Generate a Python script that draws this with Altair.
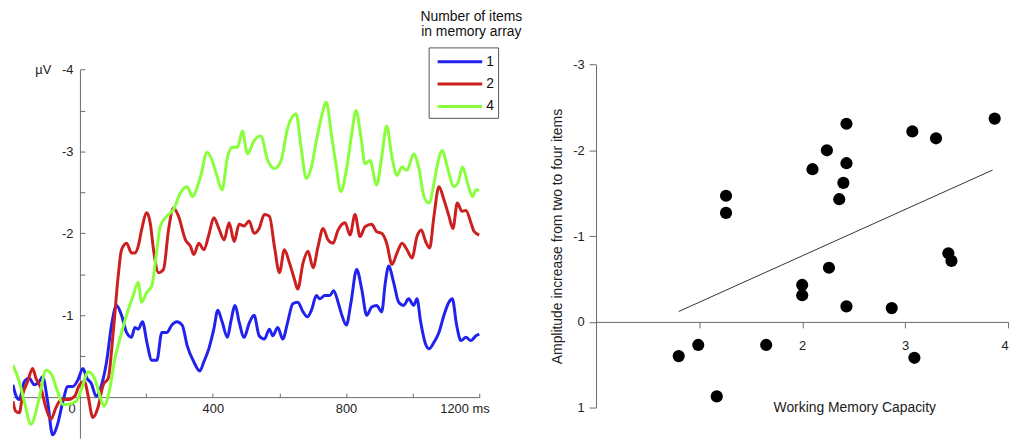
import altair as alt
import pandas as pd

# ---------------- ERP traces (left panel) ----------------
t1 = [-200,-192,-181,-166,-151,-136,-121,-111,-96,-81,-66,-50,-35,-20,-5,10,22,35,50,66,
      81,96,111,126,141,156,166,176,189,202,217,232,247,262,277,292,308,323,343,361,
      373,388,403,415,428,444,454,467,479,494,509,524,539,555,570,580,595,610,625,640,
      655,671,684,696,711,721,736,751,763,776,786,801,815,832,847,862,877,892,907,918,
      928,943,958,973,988,1003,1013,1024,1037,1049,1064,1079,1094,1109,1119,1132,1145,1160,1175,1190,1200]
v1 = [-0.15,-0.03,0.03,-0.19,-0.23,-0.15,-0.19,-0.25,0.05,0.46,0.33,0.05,-0.13,-0.13,-0.21,-0.35,-0.23,-0.17,-0.01,-0.15,
      -0.43,-0.88,-1.12,-1.00,-0.79,-0.73,-0.85,-0.83,-0.92,-0.67,-0.45,-0.45,-0.79,-0.79,-0.88,-0.92,-0.88,-0.63,-0.43,-0.32,
      -0.43,-0.59,-0.83,-1.06,-0.92,-0.73,-0.92,-1.12,-0.92,-0.73,-0.90,-1.00,-0.75,-0.71,-0.83,-0.75,-0.85,-0.71,-0.92,-1.14,
      -1.16,-1.04,-0.98,-1.06,-1.24,-1.20,-1.24,-1.24,-1.30,-1.16,-1.02,-0.88,-1.16,-1.56,-1.32,-1.00,-1.10,-1.12,-1.04,-1.40,
      -1.60,-1.40,-1.16,-1.12,-1.20,-1.12,-1.20,-0.92,-0.67,-0.59,-0.67,-0.79,-1.00,-1.16,-1.20,-0.88,-0.69,-0.73,-0.69,-0.75,-0.77]

t2 = [-200,-192,-181,-171,-156,-141,-131,-116,-101,-86,-71,-55,-35,-15,0,15,25,40,55,71,
      86,101,116,126,141,156,166,176,186,202,212,222,237,252,267,282,297,318,333,343,
      358,373,388,403,418,434,449,464,479,494,509,524,539,555,570,585,600,615,630,645,
      655,671,686,701,716,731,746,761,776,797,812,827,842,857,877,892,907,922,938,953,
      968,983,998,1013,1026,1039,1051,1064,1079,1094,1109,1121,1134,1148,1160,1175,1185,1200]
v2 = [0.05,0.17,0.19,-0.03,-0.19,-0.35,-0.23,-0.11,0.13,0.27,0.13,0.03,0.03,-0.01,-0.15,-0.19,-0.03,0.25,0.13,-0.15,
      -0.23,-0.79,-1.48,-1.80,-1.88,-1.76,-1.76,-1.84,-2.04,-2.25,-2.13,-1.80,-1.52,-1.56,-2.04,-2.31,-2.21,-1.92,-1.84,-1.74,
      -1.88,-1.80,-1.98,-2.19,-2.06,-1.92,-2.13,-1.90,-2.11,-2.09,-2.15,-2.00,-2.06,-2.23,-2.21,-1.84,-1.52,-1.80,-1.64,-1.44,
      -1.32,-1.64,-1.78,-1.58,-1.84,-2.06,-1.92,-1.88,-2.04,-2.13,-1.98,-2.23,-1.96,-2.08,-2.11,-2.02,-2.00,-1.88,-1.62,-1.76,
      -1.88,-1.80,-1.70,-1.96,-2.04,-1.90,-1.82,-2.21,-2.57,-2.41,-2.21,-2.06,-2.37,-2.27,-2.28,-2.13,-2.02,-1.98]

t4 = [-200,-181,-166,-146,-121,-101,-86,-66,-50,-40,-10,10,25,45,60,73,91,106,121,141,
      161,176,186,202,217,232,242,262,282,302,323,338,363,383,398,413,428,444,459,474,
      489,504,524,544,565,585,605,625,650,665,681,696,711,726,741,756,771,784,801,817,
      830,845,857,872,892,907,922,938,953,968,983,1003,1018,1034,1049,1064,1074,1089,1104,1124,
      1137,1150,1165,1180,1190,1200]
v4 = [-0.39,-0.19,0.05,0.33,0.01,-0.33,-0.29,-0.07,0.09,0.09,0.05,-0.15,-0.31,-0.23,-0.03,0.11,-0.11,-0.47,-0.71,-1.00,
      -1.24,-1.40,-1.16,-1.28,-1.36,-1.80,-2.08,-2.21,-2.29,-2.49,-2.57,-2.45,-2.69,-2.99,-2.89,-2.69,-2.53,-2.93,-3.05,-3.05,
      -3.25,-2.97,-3.13,-3.19,-2.89,-2.79,-2.89,-3.29,-3.46,-3.05,-2.67,-2.81,-3.13,-3.42,-3.60,-3.21,-2.81,-2.51,-2.77,-3.21,
      -3.50,-3.17,-2.85,-2.89,-2.59,-2.93,-3.31,-2.93,-2.71,-2.81,-2.77,-2.97,-2.81,-2.45,-2.37,-2.61,-2.83,-3.01,-2.81,-2.57,
      -2.63,-2.81,-2.61,-2.45,-2.53,-2.53]

series_names = ["1", "2", "4"]
series_colors = ["#2222ee", "#cc2020", "#88ff3a"]

# ---------------- scatter (right panel) ----------------
wm_capacity = [0.80,0.99,1.17,1.26,1.26,1.65,2.00,2.00,2.10,2.24,2.26,2.36,2.40,2.43,2.43,2.43,2.87,3.07,3.09,3.30,3.42,3.45,3.87]
amp_increase = [0.40,0.27,0.87,-1.47,-1.27,0.27,-0.43,-0.31,-1.78,-2.00,-0.63,-1.43,-1.62,-2.31,-1.85,-0.18,-0.16,-2.22,0.42,-2.14,-0.80,-0.71,-2.37]
fit_x = [0.80, 3.85]
fit_y = [-0.12, -1.77]

erp_df = pd.concat([
    pd.DataFrame({"t": t1, "v": v1, "n": "1"}),
    pd.DataFrame({"t": t2, "v": v2, "n": "2"}),
    pd.DataFrame({"t": t4, "v": v4, "n": "4"}),
], ignore_index=True)
sc_df = pd.DataFrame({"wm": wm_capacity, "amp": amp_increase})
fit_df = pd.DataFrame({"x": fit_x, "y": fit_y})

FONT = "Liberation Sans"
AX = "#6a6a6a"
LBL = "#222222"
NB = "\u00a0"

W, H = 1011, 377


def erp_xs():
    return alt.Scale(domain=[-200, 1200], range=[0, 470], nice=False, zero=False)


def erp_ys():
    return alt.Scale(domain=[-4, 0.5], range=[5.3, 376.8], nice=False, zero=False)


def sc_xs():
    return alt.Scale(domain=[0, 4], range=[588, 1003], nice=False, zero=False)


def sc_ys():
    return alt.Scale(domain=[-3, 1], range=[0.3, 346], nice=False, zero=False)


common = dict(labelFont=FONT, labelColor=LBL, domainColor=AX, tickColor=AX, grid=False,
              titleFont=FONT, titleColor=LBL, titleFontWeight="normal")

erp_x_axis = alt.Axis(orient="bottom", offset=-41.5, values=[0, 400, 800, 1200], ticks=False,
                      labelFontSize=13, labelPadding=5, title=None,
                      labelExpr="datum.value == 1200 ? '1200 ms' : datum.label",
                      labelOffset={"condition": [{"test": "datum.value == 1200", "value": 10},
                                                 {"test": "datum.value == 0", "value": -8}],
                                   "value": 0},
                      **common)
erp_x_ticks = alt.Axis(orient="top", offset=-335.5, values=[200, 400, 600, 800, 1000, 1200],
                       labels=False, domain=False, tickSize=4, title=None, **common)
erp_y_axis = alt.Axis(orient="left", offset=-67.5, values=[-4, -3, -2, -1], ticks=False,
                      labelFontSize=13, labelPadding=7, title=None,
                      labelExpr="datum.value == -4 ? 'µV" + NB * 3 + "-4' : '-' + abs(datum.value)",
                      **common)
erp_y_ticks = alt.Axis(orient="right", offset=67.5 - W,
                       values=[-4, -3.5, -3, -2.5, -2, -1.5, -1, -0.5],
                       labels=False, domain=False, tickSize=5, title=None, **common)

legend = alt.Legend(title=None, orient="none", legendX=419, legendY=-17,
                    strokeColor="#555555", fillColor="white", padding=4,
                    symbolType="M-2.5,0H2.5", symbolSize=324, symbolStrokeWidth=3,
                    symbolOffset=17, labelOffset=16, rowPadding=4.5,
                    labelFont=FONT, labelFontSize=14, labelColor="#111111",
                    labelExpr="datum.label + '" + NB * 3 + "'")

erp_lines = alt.Chart(erp_df).mark_line(strokeWidth=3, interpolate="monotone", clip=True).encode(
    x=alt.X("t:Q", scale=erp_xs(), axis=erp_x_axis),
    y=alt.Y("v:Q", scale=erp_ys(), axis=erp_y_axis),
    color=alt.Color("n:N", scale=alt.Scale(domain=series_names, range=series_colors), legend=legend),
    order=alt.Order("t:Q"),
)
erp_tickl = alt.Chart(erp_df).mark_line(opacity=0, clip=True).encode(
    x=alt.X("t:Q", scale=erp_xs(), axis=erp_x_ticks),
    y=alt.Y("v:Q", scale=erp_ys(), axis=erp_y_ticks),
    detail="n:N",
)

sc_x_axis = alt.Axis(orient="bottom", offset=259.7 - H, values=[1, 2, 3, 4], tickSize=6,
                     labelFontSize=13, labelPadding=12,
                     labelExpr="datum.value == 1 ? '' : datum.label",
                     title="Working Memory Capacity", titleFontSize=14,
                     titleX=848, titleY=86, titleBaseline="middle", titleAlign="center",
                     **common)
sc_y_axis = alt.Axis(orient="left", offset=-587.7, values=[-3, -2, -1, 0, 1], tickSize=7,
                     labelFontSize=13, labelPadding=5,
                     labelExpr="(datum.value < 0 ? '-' : '') + abs(datum.value)",
                     title="Amplitude increase from two to four items", titleFontSize=14,
                     titlePadding=8, **common)

pts = alt.Chart(sc_df).mark_circle(size=150, color="black", opacity=1).encode(
    x=alt.X("wm:Q", scale=sc_xs(), axis=sc_x_axis),
    y=alt.Y("amp:Q", scale=sc_ys(), axis=sc_y_axis),
)
fit = alt.Chart(fit_df).mark_line(color="#333333", strokeWidth=1).encode(
    x=alt.X("x:Q", scale=sc_xs(), axis=None),
    y=alt.Y("y:Q", scale=sc_ys(), axis=None),
)

chart = alt.layer(erp_lines, erp_tickl, pts, fit).resolve_scale(
    x="independent", y="independent"
).resolve_axis(
    x="independent", y="independent"
).properties(
    width=W, height=H,
    background="white",
    padding={"left": 5, "top": 55, "right": 0, "bottom": 0},
    autosize=alt.AutoSizeParams(type="none"),
    title=alt.TitleParams(text=["Number of items", "in memory array"], anchor="start",
                          frame="group", align="center", dx=462, offset=-6.5,
                          baseline="bottom", font=FONT, fontSize=14, fontWeight="normal",
                          color="#111111", lineHeight=16),
).configure_view(strokeWidth=0, stroke="transparent")

chart.save("out.html", embed_options={"renderer": "svg", "actions": False})
